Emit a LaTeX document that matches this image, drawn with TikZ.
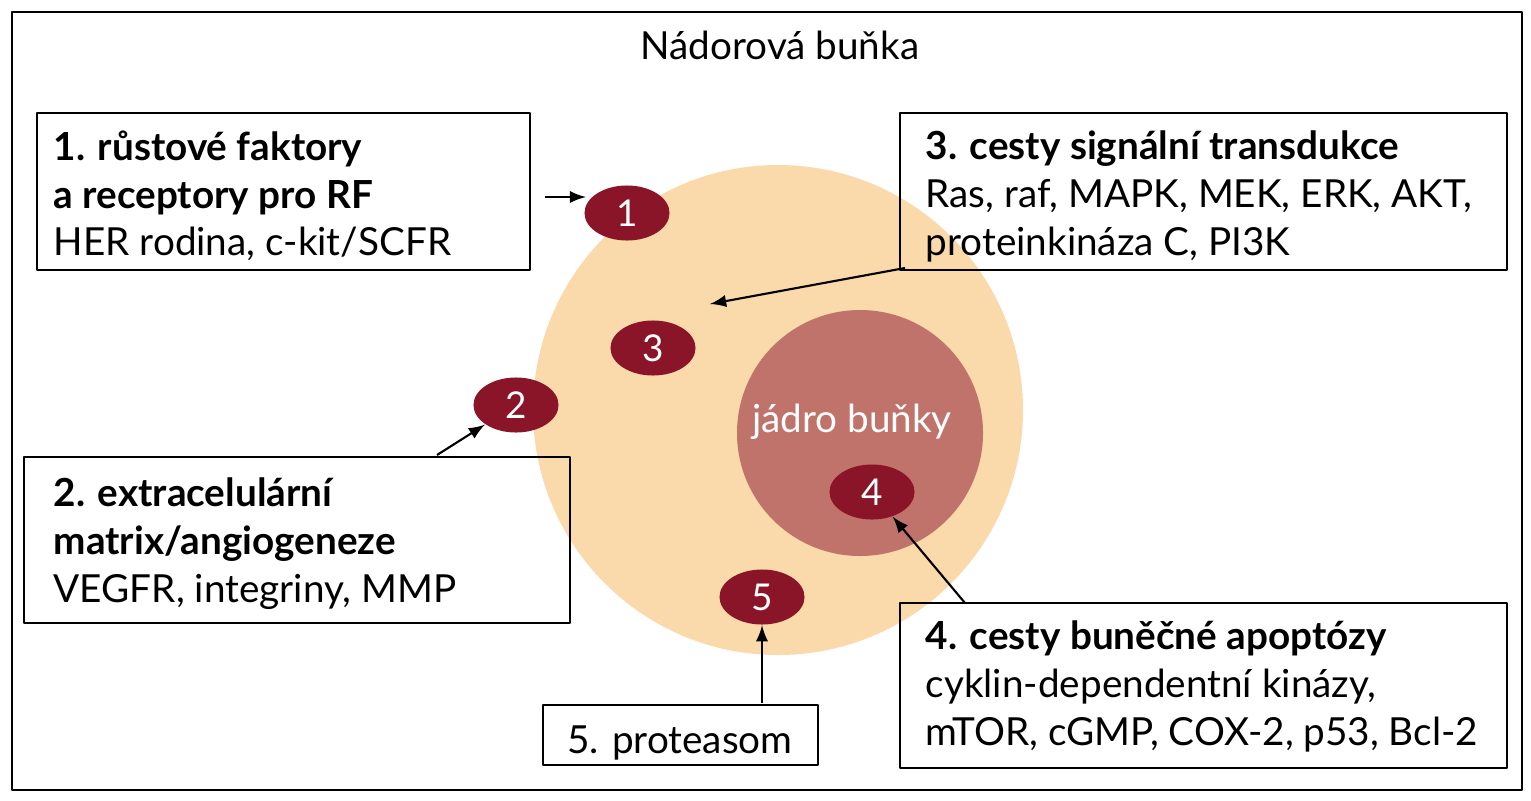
\documentclass[tikz,border=0pt]{standalone}
\usepackage{fontspec}
\setmainfont{Lato}
\usetikzlibrary{shapes.geometric}
\definecolor{cellc}{HTML}{FAD9AA}
\definecolor{nucc}{HTML}{C0736A}
\definecolor{markc}{HTML}{8A1528}
\begin{document}
\begin{tikzpicture}[x=0.01cm,y=-0.01cm,line join=round,>=latex,
  box/.style={anchor=north west,align=left,inner sep=0pt,
    font=\fontsize{11}{13.6}\selectfont},
  spot/.style={ellipse,fill=markc,text=white,minimum width=0.85cm,minimum height=0.55cm,
    inner sep=0pt,font=\fontsize{10.5}{13}\selectfont},
  arr/.style={->,line width=0.6pt}]
\useasboundingbox (0,0) rectangle (1531,800);
\draw[line width=0.8pt] (12,12) rectangle (1522,790);
\node[font=\fontsize{11}{13.6}\selectfont] (title) at (780,45) {Nádorová buňka};

\fill[cellc] (778,410) circle (245);
\fill[nucc] (860,433) circle (123);
\node[text=white,font=\fontsize{11}{13.6}\selectfont] (nuc) at (852,422) {jádro buňky};

\node[spot] (m1) at (627,213) {1};
\node[spot] (m2) at (516,405) {2};
\node[spot] (m3) at (653,348) {3};
\node[spot] (m4) at (872,492) {4};
\node[spot] (m5) at (762,597) {5};

% popisky
\draw[line width=0.8pt] (37,113) rectangle (530,270);
\node[box] (b1) at (53,130) {\textbf{1. růstové faktory}\\\textbf{a receptory pro RF}\\HER rodina, c-kit/SCFR};
\draw[line width=0.8pt] (900,113) rectangle (1507,270);
\node[box] (b3) at (925,130) {\textbf{3. cesty signální transdukce}\\Ras, raf, MAPK, MEK, ERK, AKT,\\proteinkináza C, PI3K};
\draw[line width=0.8pt] (24,457) rectangle (570,623);
\node[box] (b2) at (53,477) {\textbf{2. extracelulární}\\\textbf{matrix/angiogeneze}\\VEGFR, integriny, MMP};
\draw[line width=0.8pt] (900,603) rectangle (1507,768);
\node[box] (b4) at (925,620) {\textbf{4. cesty buněčné apoptózy}\\cyklin-dependentní kinázy,\\mTOR, cGMP, COX-2, p53, Bcl-2};
\draw[line width=0.8pt] (543,705) rectangle (818,765);
\node[font=\fontsize{11}{13.6}\selectfont] (b5) at (680,743) {5. proteasom};

\coordinate (a1) at (545,197);
\coordinate (t1) at (586,197);
\coordinate (a3) at (905,268);
\coordinate (t3) at (710,304);
\coordinate (a2) at (437,455);
\coordinate (a4) at (965,603);
\coordinate (a5) at (762,703);
\draw[arr] (a1) -- (t1);
\draw[arr] (a3) -- (t3);
\draw[arr] (a2) -- (m2);
\draw[arr] (a4) -- (m4);
\draw[arr] (a5) -- (m5);
\end{tikzpicture}
\end{document}
